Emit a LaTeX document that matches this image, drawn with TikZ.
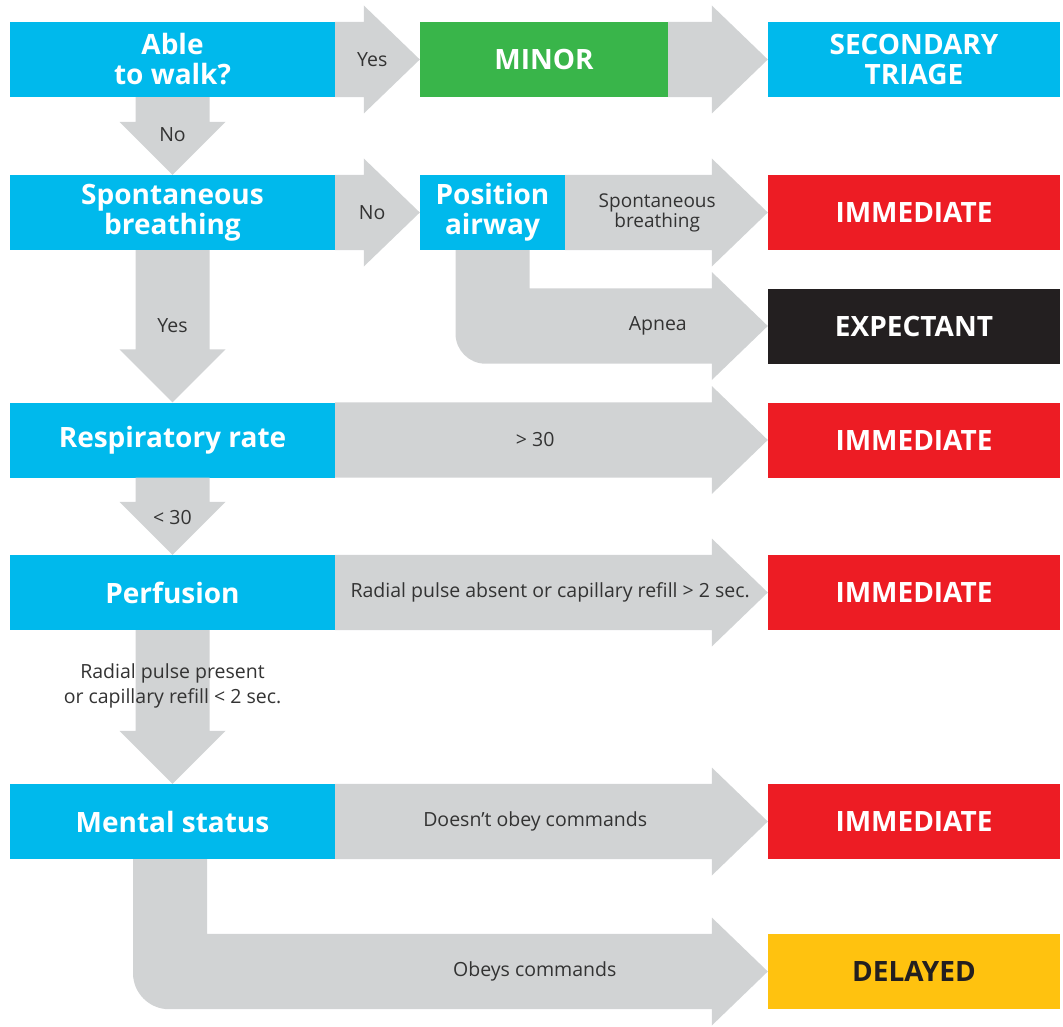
\documentclass[tikz,border=0pt]{standalone}
\usepackage{fontspec}
\setmainfont{Open Sans}
\usetikzlibrary{positioning,calc}

\definecolor{qblue}{HTML}{00B9EC}
\definecolor{tgreen}{HTML}{39B54A}
\definecolor{tred}{HTML}{ED1C24}
\definecolor{tblack}{HTML}{231F20}
\definecolor{tyellow}{HTML}{FFC20F}
\definecolor{flowgray}{HTML}{D1D3D4}
\definecolor{lblgray}{HTML}{333333}

% wide grey arrow from one box to the next box on its right
\newcommand{\flowright}[2]{%
  \fill[flow] (#1.north east) -- ($(#1.north east -| #2.west)+(-56pt,0)$) -- ($(#2.west)+(-56pt,54pt)$)
    -- (#2.west) -- ($(#2.west)+(-56pt,-54pt)$) -- ($(#1.south east -| #2.west)+(-56pt,0)$) -- (#1.south east) -- cycle;}
% wide grey arrow down to the box below
\newcommand{\flowdown}[2]{%
  \fill[flow] ($(#1.south)+(-37pt,0)$) -- ($(#2.north)+(-37pt,53pt)$) -- ($(#2.north)+(-53pt,53pt)$)
    -- (#2.north) -- ($(#2.north)+(53pt,53pt)$) -- ($(#2.north)+(37pt,53pt)$) -- ($(#1.south)+(37pt,0)$) -- cycle;}
% grey arrow down and round the corner to the right
\newcommand{\flowbend}[4]{%
  \path ($(#1.south)+(#4-37pt,0)$) coordinate (bl) ($(#1.south)+(#4+37pt,0)$) coordinate (br);
  \fill[flow] (bl) -- ($(bl |- #2.south)+(0,#3)$) .. controls ($(bl |- #2.south)+(0,0.45*#3)$) and ($(bl |- #2.south)+(0.45*#3,0)$) .. ($(bl |- #2.south)+(#3,0)$)
    -- ($(#2.south west)+(-56pt,0)$) -- ($(#2.west)+(-56pt,-54pt)$) -- (#2.west) -- ($(#2.west)+(-56pt,54pt)$)
    -- ($(#2.north west)+(-56pt,0)$) -- (br |- #2.north) -- (br) -- cycle;}

\begin{document}
\begin{tikzpicture}[x=1pt,y=-1pt,on grid,
  box/.style={minimum height=75pt,inner sep=0pt,align=center,text=white,font=\fontsize{28}{30}\selectfont\bfseries},
  question/.style={box,fill=qblue,minimum width=325pt},
  outcome/.style={box,fill=#1,minimum width=292pt},
  lbl/.style={inner sep=0pt,align=center,text=lblgray,font=\fontsize{19.5}{21}\selectfont},
  flow/.style={fill=flowgray}]
  \useasboundingbox (0,0) rectangle (1063,1027);

  % questions
  \node[question]                       (walk)   at (172.5,59.5) {Able\\to walk?};
  \node[question,below=153pt of walk]   (breath) {Spontaneous\\breathing};
  \node[question,below=227.5pt of breath] (rate) {Respiratory rate};
  \node[question,below=152.5pt of rate] (perf)   {Perfusion};
  \node[question,below=229pt of perf]   (mental) {Mental status};
  \node[box,fill=tgreen,minimum width=248pt,right=371.5pt of walk] (minor) {MINOR};
  \node[box,fill=qblue,minimum width=145pt,right=320pt of breath] (posair) {Position\\airway};

  % outcomes
  \node[outcome=qblue,right=741.5pt of walk]    (second) {SECONDARY\\TRIAGE};
  \node[outcome=tred,right=741.5pt of breath]   (imm1)   {IMMEDIATE};
  \node[outcome=tblack,below=113.5pt of imm1]   (expect) {EXPECTANT};
  \node[outcome=tred,right=741.5pt of rate]     (imm2)   {IMMEDIATE};
  \node[outcome=tred,right=741.5pt of perf]     (imm3)   {IMMEDIATE};
  \node[outcome=tred,right=741.5pt of mental]   (imm4)   {IMMEDIATE};
  \node[outcome=tyellow,text=tblack,below=150pt of imm4] (delayed) {DELAYED};

  % grey arrows
  \flowright{walk}{minor}
  \flowright{minor}{second}
  \flowright{breath}{posair}
  \flowright{posair}{imm1}
  \flowright{rate}{imm2}
  \flowright{perf}{imm3}
  \flowright{mental}{imm4}
  \flowdown{walk}{breath}
  \flowdown{breath}{rate}
  \flowdown{rate}{perf}
  \flowdown{perf}{mental}
  \flowbend{posair}{expect}{30pt}{0pt}
  \flowbend{mental}{delayed}{36pt}{-2.5pt}

  % labels on the arrows
  \node[lbl,right=37pt of walk.east,anchor=center]    (yes1)    {Yes};
  \node[lbl,below=37pt of walk.south,anchor=center]   (no1)     {No};
  \node[lbl,right=37pt of breath.east,anchor=center]  (no2)     {No};
  \node[lbl,right=92pt of posair.east,anchor=center,font=\fontsize{19}{20}\selectfont] (spont) {Spontaneous\\breathing};
  \node[lbl,left=110pt of expect.west,anchor=center]  (apnea)   {Apnea};
  \node[lbl,below=75pt of breath.south,anchor=center] (yes2)    {Yes};
  \node[lbl,right=200pt of rate.east,anchor=center]   (gt30)    {> 30};
  \node[lbl,below=40pt of rate.south,anchor=center]   (lt30)    {< 30};
  \node[lbl,right=215pt of perf.east,anchor=center]   (absent)  {Radial pulse absent or capillary refill > 2 sec.};
  \node[lbl,below=56pt of perf.south,anchor=center,font=\fontsize{19.5}{25}\selectfont] (present) {Radial pulse present\\or capillary refill < 2 sec.};
  \node[lbl,right=200pt of mental.east,anchor=center] (disobey) {Doesn’t obey commands};
  \node[lbl,left=233pt of delayed.west,anchor=center] (obeys)   {Obeys commands};
\end{tikzpicture}
\end{document}
